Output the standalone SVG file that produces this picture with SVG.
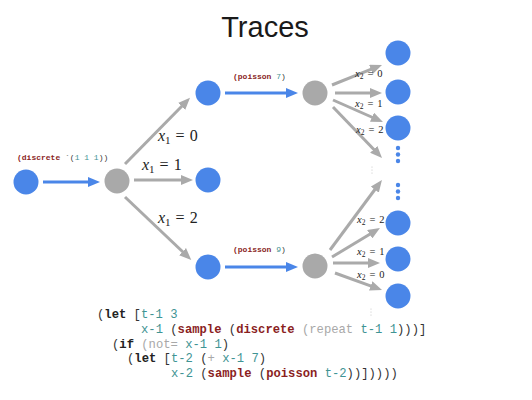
<svg xmlns="http://www.w3.org/2000/svg" width="532" height="400" viewBox="0 0 532 400">
  <style>
    .blue { fill: #4a86e8; }
    .gray { fill: #a9a9a9; }
    .dot { fill: #4a86e8; }
    .vdot { fill: #c4c4c4; }
    .edge { stroke: #aaaaaa; stroke-width: 3; fill: none; marker-end: url(#ah-gray); }
    .flow { stroke: #4a86e8; stroke-width: 3; fill: none; marker-end: url(#ah-blue); }
    .title { font-family: "Liberation Sans", Arial, sans-serif; font-size: 29px; fill: #1a1a1a; }
    .math { font-family: "Liberation Serif", "DejaVu Serif", serif; fill: #222; }
    .code { font-family: "Liberation Mono", "DejaVu Sans Mono", monospace; font-size: 12.2px; }
    .tag { font-family: "Liberation Mono", "DejaVu Sans Mono", monospace; font-size: 8px; }
    .p { fill: #333; }
    .k { fill: #222; font-weight: bold; }
    .s { fill: #3f9494; }
    .f { fill: #8b1f1f; font-weight: bold; }
    .g { fill: #a8a8a8; }
  </style>
  <defs>
    <marker id="ah-gray" viewBox="0 0 12 10" refX="2" refY="5" markerWidth="12" markerHeight="10" markerUnits="userSpaceOnUse" orient="auto">
      <path d="M0,0 L12,5 L0,10 z" fill="#aaaaaa"/>
    </marker>
    <marker id="ah-blue" viewBox="0 0 12 10" refX="2" refY="5" markerWidth="12" markerHeight="10" markerUnits="userSpaceOnUse" orient="auto">
      <path d="M0,0 L12,5 L0,10 z" fill="#4a86e8"/>
    </marker>
  </defs>

  <text class="title" x="265" y="37" text-anchor="middle">Traces</text>

  <!-- connectors -->
  <g id="connectors">
    <line class="flow" x1="43" y1="182" x2="90" y2="182"/>
    <line class="edge" x1="125" y1="164" x2="183" y2="105"/>
    <line class="edge" x1="134" y1="180" x2="183" y2="180"/>
    <line class="edge" x1="125" y1="197" x2="184" y2="253"/>
    <line class="flow" x1="225" y1="93" x2="288" y2="93"/>
    <line class="flow" x1="225" y1="267" x2="288" y2="267"/>
    <line class="edge" x1="332" y1="85" x2="372.7" y2="68.7"/>
    <line class="edge" x1="335" y1="93" x2="372" y2="93"/>
    <line class="edge" x1="333" y1="100" x2="373.8" y2="118"/>
    <line class="edge" x1="333" y1="107" x2="375.1" y2="150.8"/>
    <line class="edge" x1="330" y1="250" x2="376" y2="188"/>
    <line class="edge" x1="332" y1="257" x2="371.4" y2="233.2"/>
    <line class="edge" x1="333" y1="263" x2="370" y2="263"/>
    <line class="edge" x1="335" y1="273" x2="372.6" y2="286.6"/>
  </g>

  <!-- edge labels -->
  <g id="labels">
    <text class="tag" x="17" y="160" xml:space="preserve"><tspan class="f">(discrete</tspan><tspan class="p"> `(</tspan><tspan class="s">1 1 1</tspan><tspan class="p">))</tspan></text>
    <text class="tag" x="233" y="79" xml:space="preserve"><tspan class="f">(poisson</tspan><tspan class="s"> 7</tspan><tspan class="p">)</tspan></text>
    <text class="tag" x="233" y="252" xml:space="preserve"><tspan class="f">(poisson</tspan><tspan class="s"> 9</tspan><tspan class="p">)</tspan></text>

    <text class="math" x="158" y="141" font-size="16"><tspan font-style="italic">x</tspan><tspan font-size="11" dy="3">1</tspan><tspan dy="-3" dx="5">=</tspan><tspan dx="5">0</tspan></text>
    <text class="math" x="142" y="170" font-size="16"><tspan font-style="italic">x</tspan><tspan font-size="11" dy="3">1</tspan><tspan dy="-3" dx="5">=</tspan><tspan dx="5">1</tspan></text>
    <text class="math" x="158" y="223" font-size="16"><tspan font-style="italic">x</tspan><tspan font-size="11" dy="3">1</tspan><tspan dy="-3" dx="5">=</tspan><tspan dx="5">2</tspan></text>

    <text class="math" x="355" y="77" font-size="10.5"><tspan font-style="italic">x</tspan><tspan font-size="7.5" dy="2">2</tspan><tspan dy="-2" dx="4">=</tspan><tspan dx="4">0</tspan></text>
    <text class="math" x="355" y="107" font-size="10.5"><tspan font-style="italic">x</tspan><tspan font-size="7.5" dy="2">2</tspan><tspan dy="-2" dx="4">=</tspan><tspan dx="4">1</tspan></text>
    <text class="math" x="356" y="133" font-size="10.5"><tspan font-style="italic">x</tspan><tspan font-size="7.5" dy="2">2</tspan><tspan dy="-2" dx="4">=</tspan><tspan dx="4">2</tspan></text>
    <text class="math" x="357" y="223" font-size="10.5"><tspan font-style="italic">x</tspan><tspan font-size="7.5" dy="2">2</tspan><tspan dy="-2" dx="4">=</tspan><tspan dx="4">2</tspan></text>
    <text class="math" x="357" y="255" font-size="10.5"><tspan font-style="italic">x</tspan><tspan font-size="7.5" dy="2">2</tspan><tspan dy="-2" dx="4">=</tspan><tspan dx="4">1</tspan></text>
    <text class="math" x="357" y="278" font-size="10.5"><tspan font-style="italic">x</tspan><tspan font-size="7.5" dy="2">2</tspan><tspan dy="-2" dx="4">=</tspan><tspan dx="4">0</tspan></text>
  </g>

  <!-- nodes -->
  <g id="n-root"><circle class="blue" cx="26" cy="182" r="12.5"/></g>
  <g id="n-x1"><circle class="gray" cx="117" cy="181" r="12.5"/></g>
  <g id="n-x1-0"><circle class="blue" cx="208" cy="93" r="12.5"/></g>
  <g id="n-x1-1"><circle class="blue" cx="208" cy="180" r="12.5"/></g>
  <g id="n-x1-2"><circle class="blue" cx="208" cy="267" r="12.5"/></g>
  <g id="n-x2-top"><circle class="gray" cx="315" cy="93" r="12.5"/></g>
  <g id="n-x2-bottom"><circle class="gray" cx="315" cy="266" r="12.5"/></g>
  <g id="n-top-0"><circle class="blue" cx="398" cy="53" r="12.5"/></g>
  <g id="n-top-1"><circle class="blue" cx="398" cy="92" r="12.5"/></g>
  <g id="n-top-2"><circle class="blue" cx="398" cy="128" r="12.5"/></g>
  <g id="n-bottom-2"><circle class="blue" cx="398" cy="223" r="12.5"/></g>
  <g id="n-bottom-1"><circle class="blue" cx="398" cy="259" r="12.5"/></g>
  <g id="n-bottom-0"><circle class="blue" cx="398" cy="296" r="12.5"/></g>

  <!-- ellipsis dots -->
  <g id="more-top">
    <circle class="dot" cx="398" cy="148" r="2.2"/>
    <circle class="dot" cx="398" cy="154.5" r="2.2"/>
    <circle class="dot" cx="398" cy="161" r="2.2"/>
  </g>
  <g id="more-bottom">
    <circle class="dot" cx="398" cy="185" r="2.2"/>
    <circle class="dot" cx="398" cy="191.5" r="2.2"/>
    <circle class="dot" cx="398" cy="198" r="2.2"/>
  </g>
  <g id="vdots">
    <circle class="vdot" cx="372" cy="167" r="0.6"/>
    <circle class="vdot" cx="372" cy="170" r="0.6"/>
    <circle class="vdot" cx="372" cy="173" r="0.6"/>
    <circle class="vdot" cx="371" cy="309" r="0.6"/>
    <circle class="vdot" cx="371" cy="312" r="0.6"/>
    <circle class="vdot" cx="371" cy="315" r="0.6"/>
  </g>

  <!-- program listing -->
  <g id="program">
    <text class="code" x="97" y="318" xml:space="preserve"><tspan class="p">(</tspan><tspan class="k">let</tspan><tspan class="p"> [</tspan><tspan class="s">t-1 3</tspan></text>
    <text class="code" x="141" y="333" xml:space="preserve"><tspan class="s">x-1</tspan><tspan class="p"> (</tspan><tspan class="f">sample</tspan><tspan class="p"> (</tspan><tspan class="f">discrete</tspan><tspan class="g"> (repeat</tspan><tspan class="s"> t-1 1</tspan><tspan class="p">)))]</tspan></text>
    <text class="code" x="112" y="348" xml:space="preserve"><tspan class="p">(</tspan><tspan class="k">if</tspan><tspan class="g"> (not=</tspan><tspan class="s"> x-1 1</tspan><tspan class="p">)</tspan></text>
    <text class="code" x="127" y="362" xml:space="preserve"><tspan class="p">(</tspan><tspan class="k">let</tspan><tspan class="p"> [</tspan><tspan class="s">t-2</tspan><tspan class="p"> (</tspan><tspan class="g">+</tspan><tspan class="s"> x-1 7</tspan><tspan class="p">)</tspan></text>
    <text class="code" x="171" y="377" xml:space="preserve"><tspan class="s">x-2</tspan><tspan class="p"> (</tspan><tspan class="f">sample</tspan><tspan class="p"> (</tspan><tspan class="f">poisson</tspan><tspan class="s"> t-2</tspan><tspan class="p">))]))))</tspan></text>
  </g>
</svg>
